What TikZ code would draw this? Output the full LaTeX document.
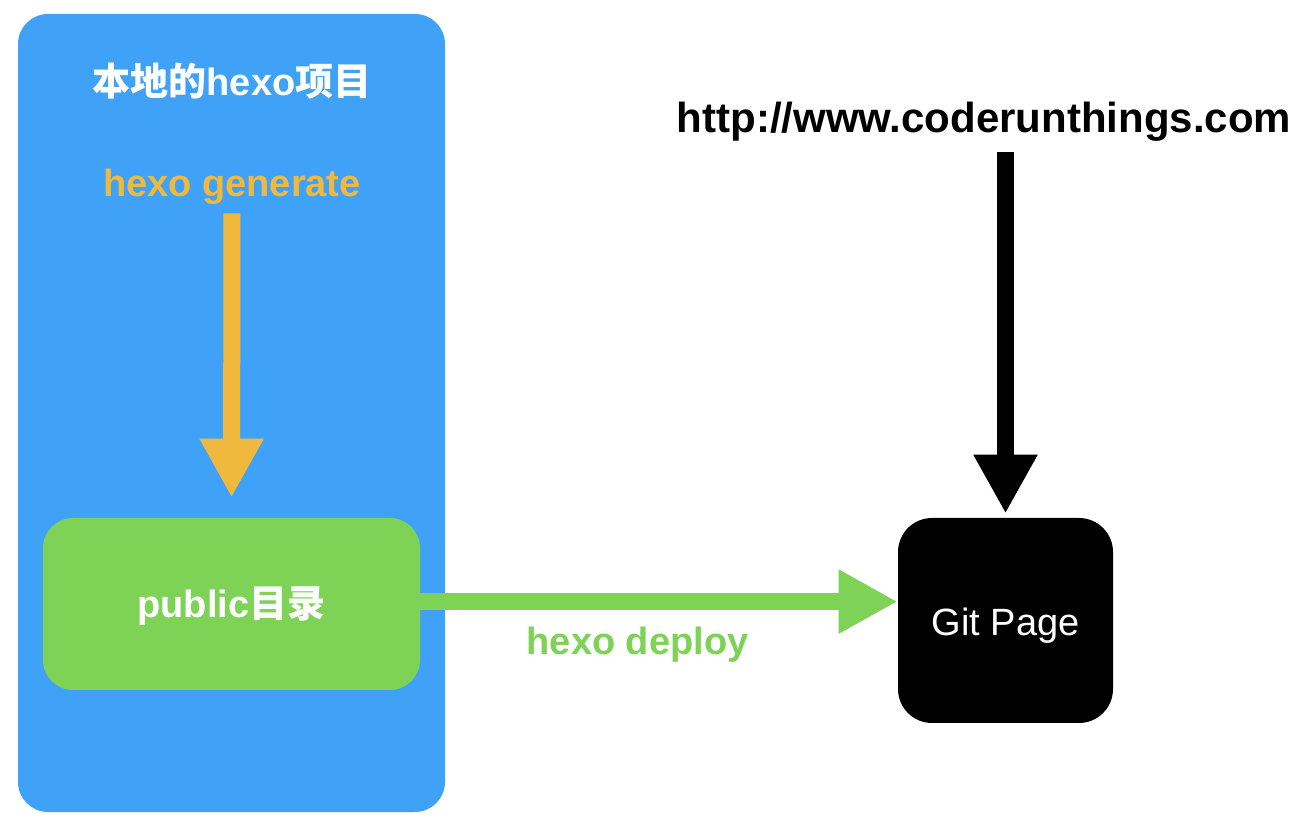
\documentclass[tikz,border=0pt]{standalone}
\usepackage{fontspec}
\setmainfont{Liberation Sans}
\newfontfamily\cjk{Noto Sans CJK SC}
\usetikzlibrary{arrows.meta,positioning}

\definecolor{localblue}{HTML}{3FA2F7}
\definecolor{publicgreen}{HTML}{7ED357}
\definecolor{genorange}{HTML}{F0B93E}

\tikzset{
  panel/.style={rounded corners=15pt, inner sep=0pt},
  label/.style={inner sep=0pt, text height=14pt, text depth=4pt, font=\fontsize{19}{22}\selectfont\bfseries},
  fatarrow/.style={line width=8.5pt, -{Triangle[length=29.5pt,width=30pt]}}
}

\begin{document}
\begin{tikzpicture}[x=0.5pt,y=-0.5pt]
    \useasboundingbox (0,0) rectangle (1306,822);
    % boxes
    \node[panel, fill=localblue, minimum width=213.5pt, minimum height=399pt] (local) at (231.5,413) {};
    \node[panel, fill=publicgreen, minimum width=188.5pt, minimum height=86pt] (public) at (231.5,604) {};
    \node[panel, fill=black, rounded corners=17pt, minimum width=107.5pt, minimum height=102.5pt] (git) at (1005.5,620.5) {};
    % texts
    \node[label, text=white] (title) at (232,86) {{\cjk 本地的}hexo{\cjk 项目}};
    \node[label, text=genorange] (gen) at (232,187) {hexo generate};
    \node[label, text=white] at ([yshift=-2pt]public.center) {public{\cjk 目录}};
    \node[label, text=white, font=\fontsize{19}{22}\selectfont] at ([yshift=-2.5pt]git.center) {Git Page};
    \node[label, text height=16pt, text depth=5pt, font=\fontsize{21}{26}\selectfont\bfseries] (url) at (984,122) {http://www.coderunthings.com};
    % arrows
    \draw[fatarrow, genorange, shorten <=4pt, shorten >=10pt] (gen.south) -- (public.north);
    \draw[fatarrow, black, shorten <=4.5pt, shorten >=2pt] (url.south -| git.north) -- (git.north);
    \draw[fatarrow, publicgreen] ([yshift=1.2pt]public.east) -- ([yshift=1.2pt]public.east -| git.west)
      node[label, pos=0.455, below=8pt, text=publicgreen] (deploy) {hexo deploy};
\end{tikzpicture}
\end{document}
